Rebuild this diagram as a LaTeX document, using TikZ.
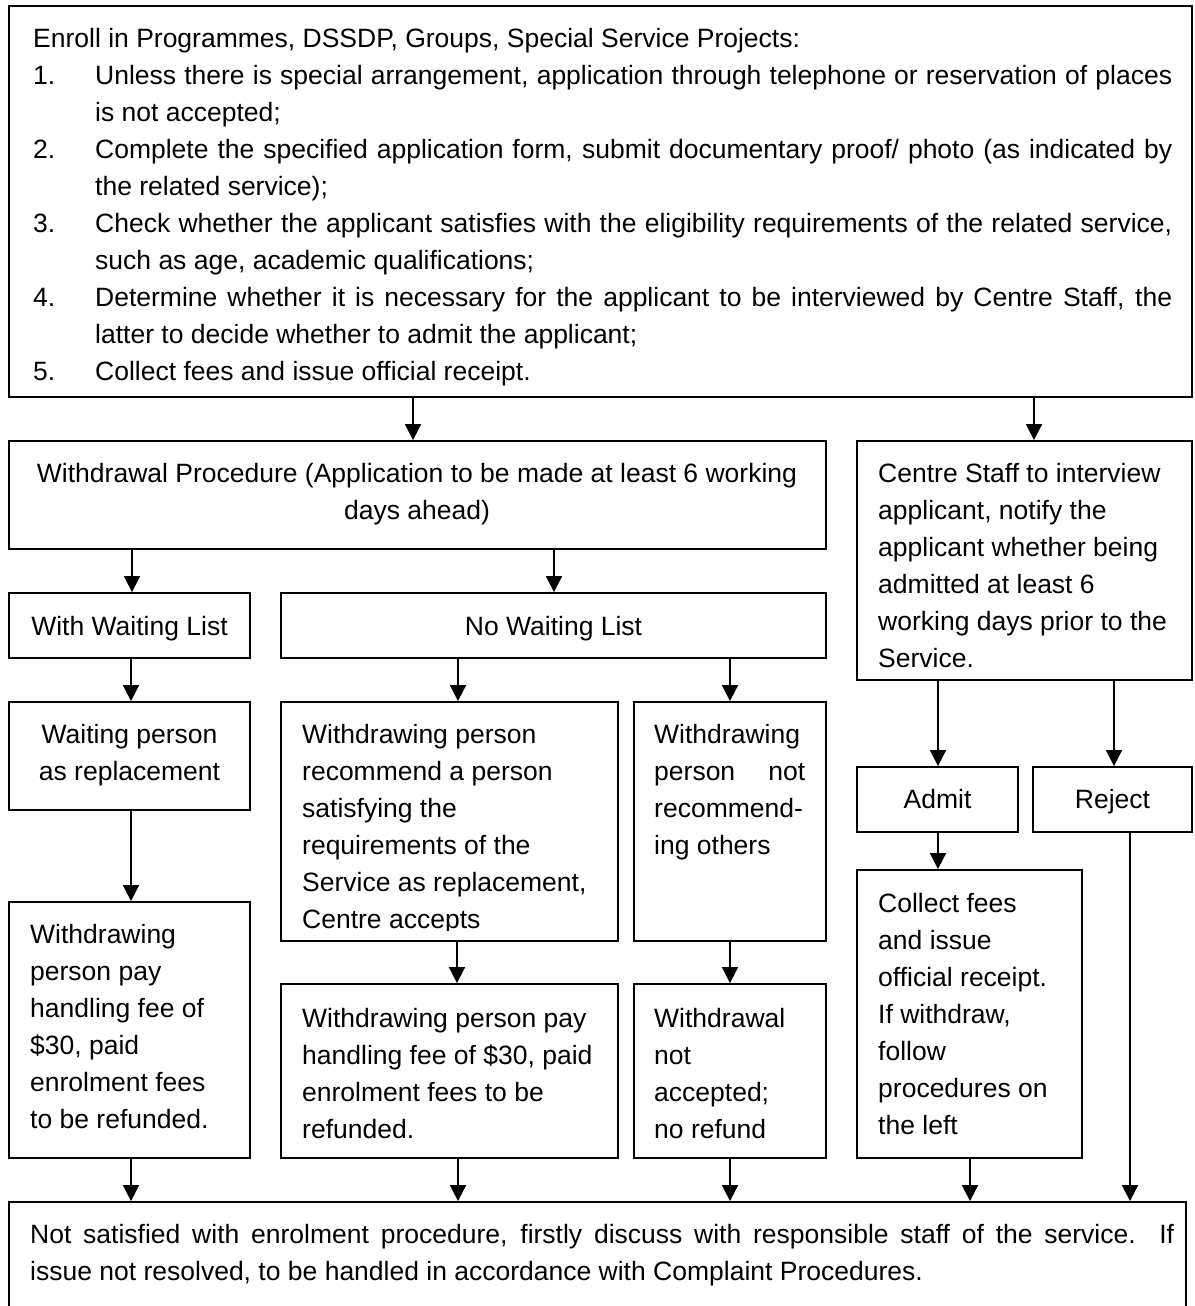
\documentclass[tikz,border=0pt]{standalone}
\usepackage{fontspec}
\setmainfont{Liberation Sans}
\usetikzlibrary{arrows.meta,fit}
\newcommand\myblock[2]{\begin{minipage}[t]{#1}#2\end{minipage}}
\newcommand\myitem[2]{\makebox[62pt][l]{#1}\makebox[1077pt][s]{#2}}
\begin{document}
\begin{tikzpicture}[x=1pt,y=-1pt,
  box/.style={draw, line width=1.8pt, inner sep=0pt},
  arr/.style={line width=1.7pt, -{Triangle[width=16pt,length=16pt]}},
  txt/.style={inner sep=0pt, anchor=base west, font=\fontsize{26.5}{37}\selectfont},
  ctxt/.style={txt, anchor=base}]
\clip (0,0) rectangle (1194,1306);
% boxes
\node[box, fit={(9,6)(1192,397)}] (top) {};
\node[box, fit={(9,441)(826,549)}] (wd) {};
\node[box, fit={(857,441)(1192,680)}] (cs) {};
\node[box, fit={(9,593)(250,658)}] (wwl) {};
\node[box, fit={(281,593)(826,658)}] (nwl) {};
\node[box, fit={(9,702)(250,810)}] (wp) {};
\node[box, fit={(281,702)(618,941)}] (rec) {};
\node[box, fit={(634,702)(826,941)}] (nrec) {};
\node[box, fit={(857,767)(1018,832)}] (admit) {};
\node[box, fit={(1033,767)(1192,832)}] (reject) {};
\node[box, fit={(9,902)(250,1158)}] (pay1) {};
\node[box, fit={(281,984)(618,1158)}] (pay2) {};
\node[box, fit={(634,984)(826,1158)}] (nacc) {};
\node[box, fit={(857,870)(1082,1158)}] (collect) {};
\node[box, fit={(9,1202)(1186,1340)}] (bottom) {};
% texts
\node[txt] (top-t) at (33,48) {\myblock{1140pt}{Enroll in Programmes, DSSDP, Groups, Special Service Projects:\\
\myitem{1.}{Unless there is special arrangement, application through telephone or reservation of places}\\
\hspace*{62pt}is not accepted;\\
\myitem{2.}{Complete the specified application form, submit documentary proof/ photo (as indicated by}\\
\hspace*{62pt}the related service);\\
\myitem{3.}{Check whether the applicant satisfies with the eligibility requirements of the related service,}\\
\hspace*{62pt}such as age, academic qualifications;\\
\myitem{4.}{Determine whether it is necessary for the applicant to be interviewed by Centre Staff, the}\\
\hspace*{62pt}latter to decide whether to admit the applicant;\\
\makebox[62pt][l]{5.}Collect fees and issue official receipt.}};
\node[ctxt] (wd-t) at (417,482) {\myblock{800pt}{\centering Withdrawal Procedure (Application to be made at least 6 working\\ days ahead)}};
\node[txt] (cs-t) at (878,482) {\myblock{310pt}{Centre Staff to interview\\ applicant, notify the\\ applicant whether being\\ admitted at least 6\\ working days prior to the\\ Service.}};
\node[ctxt] (wwl-t) at (129.5,635) {With Waiting List};
\node[ctxt] (nwl-t) at (553.5,635) {No Waiting List};
\node[ctxt] (wp-t) at (129.5,743) {\myblock{230pt}{\centering Waiting person\\ as replacement}};
\begin{scope}
\clip (281,702) rectangle (618,930);
\node[txt] (rec-t) at (302,743) {\myblock{310pt}{Withdrawing person\\ recommend a person\\ satisfying the\\ requirements of the\\ Service as replacement,\\ Centre accepts}};
\end{scope}
\node[txt] (nrec-t) at (654,743) {\myblock{170pt}{Withdrawing\\ \makebox[151pt][s]{person not}\\ recommend-\\ ing others}};
\node[ctxt] (admit-t) at (937.5,808) {Admit};
\node[ctxt] (reject-t) at (1112.5,808) {Reject};
\node[txt] (collect-t) at (878,912) {\myblock{200pt}{Collect fees\\ and issue\\ official receipt.\\ If withdraw,\\ follow\\ procedures on\\ the left}};
\node[txt] (pay1-t) at (30,943) {\myblock{215pt}{Withdrawing\\ person pay\\ handling fee of\\ \$30, paid\\ enrolment fees\\ to be refunded.}};
\node[txt] (pay2-t) at (302,1027) {\myblock{310pt}{Withdrawing person pay\\ handling fee of \$30, paid\\ enrolment fees to be\\ refunded.}};
\node[txt] (nacc-t) at (654,1027) {\myblock{170pt}{Withdrawal\\ not\\ accepted;\\ no refund}};
\node[txt] (bottom-t) at (30,1243) {\myblock{1150pt}{\makebox[1144pt][s]{Not satisfied with enrolment procedure, firstly discuss with responsible staff of the service.\ \ If}\\ issue not resolved, to be handled in accordance with Complaint Procedures.}};
% connectors
\draw[arr] (top.south -| 413,0) -- (wd.north -| 413,0);
\draw[arr] (top.south -| 1034,0) -- (cs.north -| 1034,0);
\draw[arr] (wd.south -| 132,0) -- (wwl.north -| 132,0);
\draw[arr] (wd.south -| 554,0) -- (nwl.north -| 554,0);
\draw[arr] (wwl.south -| 131,0) -- (wp.north -| 131,0);
\draw[arr] (nwl.south -| 458,0) -- (rec.north -| 458,0);
\draw[arr] (nwl.south -| 730,0) -- (nrec.north -| 730,0);
\draw[arr] (cs.south -| 938,0) -- (admit.north -| 938,0);
\draw[arr] (cs.south -| 1114,0) -- (reject.north -| 1114,0);
\draw[arr] (wp.south -| 131,0) -- (pay1.north -| 131,0);
\draw[arr] (rec.south -| 457,0) -- (pay2.north -| 457,0);
\draw[arr] (nrec.south -| 730,0) -- (nacc.north -| 730,0);
\draw[arr] (admit.south -| 938,0) -- (collect.north -| 938,0);
\draw[arr] (pay1.south -| 131,0) -- (bottom.north -| 131,0);
\draw[arr] (pay2.south -| 458,0) -- (bottom.north -| 458,0);
\draw[arr] (nacc.south -| 730,0) -- (bottom.north -| 730,0);
\draw[arr] (collect.south -| 970,0) -- (bottom.north -| 970,0);
\draw[arr] (reject.south -| 1130,0) -- (bottom.north -| 1130,0);
\end{tikzpicture}
\end{document}
